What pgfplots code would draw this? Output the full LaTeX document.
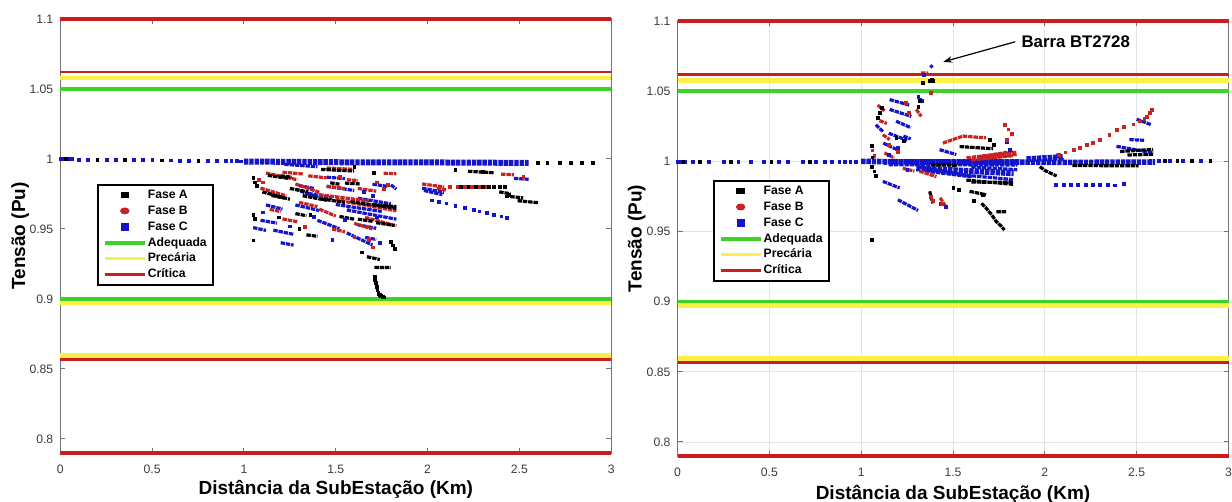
\documentclass[border=0pt]{standalone}
\usepackage{fontspec}
\setmainfont{Liberation Sans}
\usepackage{pgfplots}
\pgfplotsset{compat=1.18}
\usetikzlibrary{arrows.meta}

\definecolor{cR}{RGB}{205,28,28}
\definecolor{cY}{RGB}{250,240,70}
\definecolor{cG}{RGB}{60,210,40}
\definecolor{fB}{RGB}{200,35,35}
\definecolor{fC}{RGB}{20,20,200}
\definecolor{axc}{RGB}{115,115,115}
\definecolor{tkc}{RGB}{60,60,60}

\pgfplotsset{
  tensao/.style={
    scale only axis, width=275.5bp,
    xmin=0, xmax=3, ymin=0.79, ymax=1.1,
    xtick={0,0.5,1,1.5,2,2.5,3},
    xticklabels={0,0.5,1,1.5,2,2.5,3},
    ytick={0.8,0.85,0.9,0.95,1,1.05,1.1},
    yticklabels={0.8,0.85,0.9,0.95,1,1.05,1.1},
    tick align=inside, major tick length=2.5bp,
    axis line style={axc, line width=0.5bp},
    tick style={axc, line width=0.5bp},
    ticklabel style={font=\fontsize{6.1bp}{7bp}\selectfont, text=tkc},
    xticklabel style={yshift=-2.4bp},
    label style={font=\bfseries\fontsize{9.5bp}{11bp}\selectfont},
    xlabel={Distância da SubEstação (Km)},
    ylabel={Tensão (Pu)},
    xlabel style={anchor=center},
    ylabel style={anchor=center},
    clip=false,
    legend cell align=left,
    legend style={draw=black, line width=1bp, fill=white,
      font=\bfseries\fontsize{6.1bp}{7bp}\selectfont,
      inner xsep=2.5bp, inner ysep=1.8bp, row sep=1.45bp,
      nodes={inner xsep=0.6bp, inner ysep=0.4bp, text height=4.5bp, text depth=1.2bp, anchor=west},
      /tikz/every even column/.append style={column sep=0bp}},
  },
  mk/.style={only marks, mark=square*, mark size=0.7bp, mark options={solid, line width=0.1bp}, forget plot},
  st/.style={no markers, line width=1.6bp, dash pattern=on 2.2bp off 0.45bp, unbounded coords=jump, forget plot},
  lim/.style={no markers, forget plot},
}

% legend and limit lines, shared by both panels
\newcommand{\legenda}{%
  \addlegendimage{legend image code/.code={\path[draw=none,fill=none] (0bp,0bp) -- (20bp,0bp); \fill[black] (8.4bp,-0.9bp) rectangle (11.6bp,0.9bp);}}
  \addlegendentry{Fase A}
  \addlegendimage{legend image code/.code={\path[draw=none,fill=none] (0bp,0bp) -- (20bp,0bp); \fill[fB] (10bp,0bp) ellipse (1.8bp and 1.2bp);}}
  \addlegendentry{Fase B}
  \addlegendimage{legend image code/.code={\path[draw=none,fill=none] (0bp,0bp) -- (20bp,0bp); \fill[fC] (8.5bp,-1.5bp) rectangle (11.5bp,1.5bp);}}
  \addlegendentry{Fase C}
  \addlegendimage{legend image code/.code={\draw[cG, line width=1.8bp] (0bp,0bp) -- (20bp,0bp);}}
  \addlegendentry{Adequada}
  \addlegendimage{legend image code/.code={\draw[cY, line width=1.8bp] (0bp,0bp) -- (20bp,0bp);}}
  \addlegendentry{Precária}
  \addlegendimage{legend image code/.code={\draw[cR, line width=1.8bp] (0bp,0bp) -- (20bp,0bp);}}
  \addlegendentry{Crítica}
}
\newcommand{\limites}{%
  \addplot[lim, cY, line width=2.4bp] coordinates {(0,1.0578) (3,1.0578)};
  \addplot[lim, cY, line width=2.4bp] coordinates {(0,0.8972) (3,0.8972)};
  \addplot[lim, cY, line width=2.4bp] coordinates {(0,0.8595) (3,0.8595)};
  \addplot[lim, cG, line width=1.8bp] coordinates {(0,1.05) (3,1.05)};
  \addplot[lim, cG, line width=1.8bp] coordinates {(0,0.9) (3,0.9)};
  \addplot[lim, cR, line width=1.2bp] coordinates {(0,1.062) (3,1.062)};
  \addplot[lim, cR, line width=1.6bp] coordinates {(0,0.8565) (3,0.8565)};
  \addplot[lim, cR, line width=1.6bp] coordinates {(0,1.1) (3,1.1)};
  \addplot[lim, cR, line width=1.6bp] coordinates {(0,0.79) (3,0.79)};
}

\begin{document}
\begin{tikzpicture}
\useasboundingbox (0,0) rectangle (616bp,251bp);

% ---------------- left panel
\begin{axis}[tensao, at={(30.15bp,24.5bp)}, anchor=south west, height=217bp,
  legend style={at={(0.0666,0.62)}, anchor=north west},
  xlabel style={at={(axis description cs:0.5,-0.083)}},
  ylabel style={at={(axis description cs:-0.0726,0.5)}}]
\legenda

% Fase C
\addplot[st, fC, line width=3bp] coordinates {(1.0,0.9982) (1.6,0.9976) (2.1,0.9975) (2.55,0.9972)};
\addplot[st, fC] coordinates {
 (1.22,0.9962) (1.40,0.9945) (1,nan)
 (1.28,0.9785) (1.40,0.9725) (1,nan)
 (1.45,0.9805) (1.60,0.9775) (1,nan)
 (1.56,0.9636) (1.83,0.9570) (1,nan)
 (1.12,0.9672) (1.21,0.9642) (1,nan)
 (1.09,0.9562) (1.18,0.9542) (1,nan)
 (1.16,0.9492) (1.27,0.9462) (1,nan)
 (1.20,0.9402) (1.27,0.9385) (1,nan)
 (1.28,0.9672) (1.41,0.9632) (1,nan)
 (1.40,0.9562) (1.52,0.9502) (1,nan)
 (1.56,0.9472) (1.70,0.9385) (1,nan)
 (1.80,0.9815) (1.83,0.9785) (1,nan)
 (1.97,0.9792) (2.09,0.9762) (1,nan)
 (2.47,0.9862) (2.55,0.9855) (1,nan)
 (1.50,0.9675) (1.75,0.9625) (1,nan)
 (1.30,0.9810) (1.38,0.9790) (1,nan)
 (1.35,0.9755) (1.48,0.9720) (1,nan)
 (1.62,0.9720) (1.80,0.9680) (1,nan)
 (1.62,0.9530) (1.72,0.9505) (1,nan)
 (1.05,0.9510) (1.12,0.9490) (1,nan)
 (1.45,0.9870) (1.55,0.9860) (1,nan)
 (1.70,0.9820) (1.78,0.9805) (1,nan)
 (1.66,0.9440) (1.72,0.9425) (1,nan)
 (1.98,0.9775) (2.08,0.9745)};
\addplot[mk, fC] coordinates {
 (0,1.0) (0.02,1.0) (0.04,1.0) (0.06,1.0) (0.10,0.9998) (0.15,0.9997) (0.25,0.9996)
 (0.30,0.9995) (0.40,0.9994) (0.45,0.9993) (0.50,0.9993) (0.60,0.9992) (0.65,0.9991)
 (0.70,0.9991) (0.80,0.9989) (0.85,0.9988) (0.90,0.9987) (0.93,0.9987) (0.96,0.9986) (0.98,0.9985)
 (2.02,0.9707) (2.06,0.9698) (2.10,0.9685) (2.15,0.9668) (2.20,0.9652) (2.25,0.9638)
 (2.28,0.9628) (2.32,0.9618) (2.36,0.9605) (2.40,0.9592) (2.43,0.9582)
 (1.55,0.9565) (1.48,0.9425) (1.72,0.9585) (1.74,0.9405) (1.38,0.9590) (1.65,0.9765)
 (1.70,0.9740) (1.10,0.9620) (1.25,0.9520)};

% Fase B
\addplot[st, fB] coordinates {
 (1.12,0.9900) (1.29,0.9852) (1,nan)
 (1.21,0.9906) (1.32,0.9893) (1,nan)
 (1.45,0.9936) (1.60,0.9926) (1,nan)
 (1.76,0.9898) (1.83,0.9895) (1,nan)
 (1.56,0.9852) (1.62,0.9846) (1,nan)
 (1.09,0.9792) (1.23,0.9737) (1,nan)
 (1.28,0.9822) (1.41,0.9762) (1,nan)
 (1.41,0.9745) (1.68,0.9700) (1,nan)
 (1.50,0.9708) (1.83,0.9630) (1,nan)
 (1.66,0.9583) (1.83,0.9522) (1,nan)
 (1.21,0.9572) (1.29,0.9552) (1,nan)
 (1.41,0.9642) (1.50,0.9592) (1,nan)
 (1.97,0.9822) (2.09,0.9800) (1,nan)
 (2.40,0.9892) (2.47,0.9887) (1,nan)
 (1.45,0.9805) (1.55,0.9790) (1,nan)
 (1.35,0.9880) (1.45,0.9865) (1,nan)
 (1.62,0.9790) (1.72,0.9770) (1,nan)
 (1.30,0.9690) (1.40,0.9660) (1,nan)
 (1.14,0.9640) (1.20,0.9625) (1,nan)
 (1.60,0.9540) (1.70,0.9500) (1,nan)
 (1.48,0.9500) (1.55,0.9480) (1,nan)
 (2.05,0.9790) (2.10,0.9780)};
\addplot[mk, fB] coordinates {
 (1.08,0.9855) (1.10,0.9835) (1.72,0.9835) (1.78,0.9815) (1.76,0.9786) (1.60,0.9445)
 (1.70,0.9370) (1.68,0.9425) (1.33,0.9515) (1.52,0.9875) (2.12,0.9805) (2.16,0.9805)
 (2.20,0.9805) (2.24,0.9805) (2.28,0.9805) (2.32,0.9805) (2.52,0.9875)};

% Fase A
\addplot[st, black] coordinates {
 (1.13,0.9883) (1.24,0.9862) (1,nan)
 (1.42,0.9926) (1.60,0.9914) (1,nan)
 (1.55,0.9828) (1.63,0.9822) (1,nan)
 (1.10,0.9765) (1.25,0.9712) (1,nan)
 (1.15,0.9740) (1.22,0.9720) (1,nan)
 (1.32,0.9738) (1.45,0.9705) (1,nan)
 (1.42,0.9715) (1.55,0.9690) (1,nan)
 (1.58,0.9695) (1.83,0.9648) (1,nan)
 (1.70,0.9675) (1.83,0.9660) (1,nan)
 (1.72,0.9545) (1.82,0.9525) (1,nan)
 (1.34,0.9458) (1.40,0.9448) (1,nan)
 (1.67,0.9302) (1.74,0.9282) (1,nan)
 (1.71,0.9226) (1.80,0.9224) (1,nan)
 (2.22,0.9912) (2.36,0.9902) (1,nan)
 (2.39,0.9765) (2.45,0.9752) (1,nan)
 (2.45,0.9732) (2.52,0.9722) (1,nan)
 (2.49,0.9702) (2.60,0.9688) (1,nan)
 (1.25,0.9790) (1.35,0.9765) (1,nan)
 (1.47,0.9830) (1.52,0.9820) (1,nan)
 (1.28,0.9610) (1.34,0.9595) (1,nan)
 (1.52,0.9590) (1.60,0.9570) (1,nan)
 (1.62,0.9570) (1.70,0.9555) (1,nan)
 (1.20,0.9880) (1.26,0.9870)};
\addplot[mk, black] coordinates {
 (0.03,1.0) (0.20,0.9997) (0.35,0.9995) (0.55,0.9992) (0.75,0.9990)
 (2.60,0.9975) (2.65,0.9974) (2.72,0.9975) (2.78,0.9974) (2.84,0.9973) (2.90,0.9973)
 (1.05,0.9865) (1.06,0.9835) (1.07,0.9810) (1.05,0.9605) (1.06,0.9575) (1.05,0.9420)
 (1.19,0.9585) (1.30,0.9505) (1.36,0.9602) (1.705,0.9905) (1.60,0.9945)
 (1.71,0.9160) (1.712,0.9135) (1.715,0.9115) (1.72,0.9090) (1.725,0.9065) (1.73,0.9045)
 (1.735,0.9035) (1.74,0.9030) (1.745,0.9022) (1.75,0.9020) (1.755,0.9016) (1.76,0.9013)
 (1.80,0.9410) (1.81,0.9385) (1.82,0.9360) (1.64,0.9335) (2.15,0.9925)
 (2.18,0.9805) (2.22,0.9805) (2.26,0.9805) (2.30,0.9805) (2.33,0.9805) (2.36,0.9805)
 (2.39,0.9805) (2.42,0.9805) (2.30,0.9908) (2.43,0.9735) (2.44,0.9745)};

\limites
\end{axis}

% ---------------- right panel
\begin{axis}[tensao, at={(338.75bp,23bp)}, anchor=south west, height=217.5bp,
  xmajorgrids, ymajorgrids, grid style={gray!22, line width=0.4bp},
  legend style={at={(0.0642,0.6345)}, anchor=north west},
  xlabel style={at={(axis description cs:0.5,-0.089)}},
  ylabel style={at={(axis description cs:-0.074,0.5)}}]
\legenda

% Fase C
\addplot[st, fC, line width=2.8bp] coordinates {(1.0,1.0) (1.3,0.9995) (1.85,0.9995) (2.1,0.9992) (2.6,0.9995)};
\addplot[st, fC, line width=3.6bp] coordinates {(1.15,0.9990) (1.85,0.9988)};
\addplot[st, fC, line width=3bp] coordinates {(1.30,0.9950) (1.83,0.9915) (1,nan) (1.90,1.0015) (2.10,1.0030)};
\addplot[st, fC] coordinates {
 (1.155,1.0440) (1.264,1.0400) (1,nan)
 (1.155,1.0370) (1.273,1.0320) (1,nan)
 (1.19,1.0286) (1.27,1.0240) (1,nan)
 (1.08,1.0260) (1.12,1.0210) (1,nan)
 (1.12,1.0130) (1.20,1.0080) (1,nan)
 (1.15,1.0200) (1.25,1.0150) (1,nan)
 (1.23,1.0180) (1.27,1.0160) (1,nan)
 (1.118,0.9857) (1.21,0.9810) (1,nan)
 (1.20,0.9726) (1.31,0.9650) (1,nan)
 (1.318,0.9960) (1.573,0.9900) (1.827,0.9870) (1,nan)
 (1.35,0.9930) (1.60,0.9890) (1,nan)
 (1.60,0.9960) (1.85,0.9940) (1,nan)
 (1.427,1.0083) (1.518,1.0048) (1,nan)
 (2.39,1.0107) (2.59,1.0060) (1,nan)
 (2.46,1.0155) (2.54,1.0150) (1,nan)
 (2.50,1.0300) (2.58,1.0260) (1,nan)
 (2.06,1.0048) (2.10,1.0010) (1,nan)
 (1.376,1.0683) (1.39,1.0670)};
\addplot[mk, fC] coordinates {
 (0,1.0) (0.01,1.0) (0.02,1.0) (0.04,1.0) (0.08,1.0) (0.17,1.0) (0.25,1.0) (0.33,1.0)
 (0.40,1.0) (0.47,1.0) (0.55,1.0) (0.60,1.0) (0.68,1.0) (0.75,1.0) (0.80,1.0) (0.84,1.0)
 (0.88,1.0) (0.91,1.0) (0.94,1.0) (0.97,1.0) (2.62,1.0007) (2.68,1.0006) (2.75,1.0006) (2.85,1.0006)
 (1.31,1.0460) (1.33,1.0430) (1.32,1.0440) (1.34,1.0620)
 (2.06,0.9833) (2.10,0.9833) (2.14,0.9832) (2.18,0.9833) (2.22,0.9832) (2.26,0.9833)
 (2.30,0.9832) (2.34,0.9833) (2.38,0.9830) (2.43,0.9840)
 (1.43,0.9700) (1.46,0.9680) (1.15,1.0050) (1.20,1.0100) (1.24,1.0000) (1.79,1.0143)
 (1.81,1.0083) (1.13,0.9990) (1.25,0.9940)};

% Fase B
\addplot[st, fB] coordinates {
 (1.09,1.0400) (1.127,1.0360) (1,nan)
 (1.10,1.0290) (1.14,1.0270) (1,nan)
 (1.30,1.0370) (1.327,1.0320) (1,nan)
 (1.118,1.0190) (1.155,1.0155) (1,nan)
 (1.127,1.0060) (1.18,1.0024) (1,nan)
 (1.227,0.9950) (1.29,0.9930) (1,nan)
 (1.318,0.9930) (1.41,0.9890) (1,nan)
 (1.445,1.0130) (1.555,1.0180) (1.68,1.0167) (1,nan)
 (1.573,1.0024) (1.70,1.0045) (1.827,1.0070) (1,nan)
 (1.60,1.0010) (1.827,1.0040) (1,nan)
 (1.327,1.0630) (1.364,1.0630) (1,nan)
 (1.43,0.9740) (1.464,0.9670)};
\addplot[st, fB, line width=2.6bp] coordinates {(1.65,1.0025) (1.85,1.0058)};
\addplot[mk, fB] coordinates {
 (1.38,1.0490) (1.78,1.0260) (1.80,1.0230) (1.82,1.0200) (1.79,1.0155)
 (2.073,1.0048) (2.11,1.0065) (2.155,1.0083) (2.19,1.0100) (2.227,1.0120) (2.26,1.0135)
 (2.30,1.0155) (2.35,1.0190) (2.39,1.0226) (2.43,1.0245) (2.48,1.0265) (2.518,1.0286)
 (2.54,1.0305) (2.555,1.0320) (2.57,1.0345) (2.58,1.0370)
 (1.06,1.0080) (1.07,1.0040) (1.15,1.0120) (1.20,1.0070) (1.38,0.9750) (1.39,0.9720)
 (1.44,0.9700) (1.26,1.0350) (1.24,1.0420)};

% Fase A
\addplot[st, black] coordinates {
 (1.573,0.9866) (1.827,0.9836) (1,nan)
 (1.60,0.9852) (1.827,0.9850) (1,nan)
 (1.59,0.9786) (1.68,0.9762) (1,nan)
 (1.655,0.9700) (1.68,0.9667) (1.71,0.9620) (1.736,0.9570) (1.764,0.9536) (1.78,0.9510) (1,nan)
 (1.736,0.9640) (1.79,0.9640) (1,nan)
 (1.536,1.0105) (1.718,1.0090) (1,nan)
 (2.41,1.0070) (2.59,1.0085) (1,nan)
 (2.45,1.0045) (2.59,1.0050) (1,nan)
 (2.15,0.9970) (2.51,0.9968) (1,nan)
 (1.973,0.9962) (2.0,0.9935) (2.064,0.9895) (1,nan)
 (1.38,0.9975) (1.52,0.9972) (1,nan)
 (1.373,0.9786) (1.39,0.9700)};
\addplot[mk, black] coordinates {
 (1.336,1.0560) (1.373,1.0578) (1.385,1.0582) (1.39,1.0575) (1.31,1.0390) (1.32,1.0430)
 (1.10,1.0345) (1.09,1.0310) (1.11,1.0380) (1.055,1.0110) (1.06,1.0030) (1.055,0.9960)
 (1.07,0.9930) (1.08,0.9900) (1.055,0.9445) (1.50,0.9815) (1.53,0.9800) (1.19,1.0170)
 (1.23,1.0145) (1.70,1.0155) (1.72,1.0120) (1.61,0.9720) (1.66,0.9760)
 (0.03,1.0) (0.12,1.0) (0.29,1.0) (0.51,1.0) (0.72,1.0)
 (2.65,1.0007) (2.72,1.0007) (2.80,1.0006) (2.90,1.0006)};

\limites

\node[font=\bfseries\fontsize{8.4bp}{10bp}\selectfont, anchor=west, inner sep=0pt]
  at (axis cs:1.871,1.0855) {Barra BT2728};
\draw[-{Stealth[length=4.5bp,width=3.2bp]}, line width=0.6bp]
  (axis cs:1.839,1.0852) -- (axis cs:1.447,1.0709);
\end{axis}
\end{tikzpicture}
\end{document}
